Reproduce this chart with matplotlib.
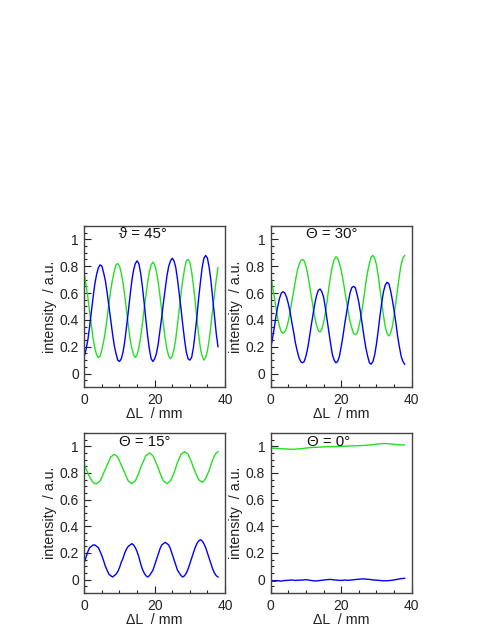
import numpy as np
import matplotlib
matplotlib.use("Agg")
import matplotlib.pyplot as plt
from matplotlib.ticker import MultipleLocator, FuncFormatter

plt.rcParams['font.family'] = ['Liberation Sans', 'DejaVu Sans']

# positions along delta L (mm), 0..38 step 0.5
x_mm = [i * 0.5 for i in range(77)]

blue_45 = [0.13, 0.18, 0.25, 0.35, 0.46, 0.57, 0.67, 0.74, 0.79, 0.81,
           0.80, 0.75, 0.69, 0.60, 0.50, 0.40, 0.30, 0.21, 0.15, 0.10,
           0.09, 0.11, 0.16, 0.24, 0.35, 0.46, 0.58, 0.69, 0.77, 0.82,
           0.84, 0.82, 0.75, 0.65, 0.53, 0.40, 0.28, 0.18, 0.11, 0.09,
           0.11, 0.15, 0.22, 0.32, 0.42, 0.53, 0.63, 0.73, 0.80, 0.84,
           0.86, 0.84, 0.79, 0.70, 0.59, 0.48, 0.36, 0.25, 0.16, 0.11,
           0.10, 0.12, 0.19, 0.30, 0.42, 0.56, 0.68, 0.79, 0.86, 0.88,
           0.86, 0.79, 0.69, 0.56, 0.43, 0.30, 0.20]
green_45 = [0.74, 0.66, 0.57, 0.46, 0.36, 0.26, 0.19, 0.14, 0.12, 0.13,
            0.18, 0.24, 0.32, 0.42, 0.52, 0.62, 0.70, 0.76, 0.81, 0.82,
            0.80, 0.75, 0.68, 0.58, 0.47, 0.36, 0.26, 0.19, 0.14, 0.12,
            0.14, 0.19, 0.27, 0.37, 0.48, 0.58, 0.68, 0.76, 0.81, 0.83,
            0.81, 0.76, 0.68, 0.58, 0.47, 0.36, 0.26, 0.18, 0.13, 0.11,
            0.13, 0.18, 0.26, 0.37, 0.48, 0.60, 0.70, 0.78, 0.84, 0.85,
            0.83, 0.76, 0.66, 0.54, 0.41, 0.29, 0.19, 0.13, 0.10, 0.12,
            0.17, 0.25, 0.36, 0.48, 0.59, 0.70, 0.79]

blue_30 = [0.19, 0.26, 0.34, 0.43, 0.50, 0.56, 0.60, 0.61, 0.60, 0.57,
           0.52, 0.46, 0.38, 0.31, 0.23, 0.17, 0.12, 0.09, 0.08, 0.09,
           0.13, 0.19, 0.27, 0.36, 0.44, 0.52, 0.58, 0.62, 0.63, 0.61,
           0.57, 0.49, 0.40, 0.31, 0.22, 0.14, 0.10, 0.08, 0.09, 0.13,
           0.20, 0.28, 0.37, 0.45, 0.53, 0.60, 0.64, 0.65, 0.64, 0.59,
           0.53, 0.45, 0.36, 0.27, 0.19, 0.13, 0.08, 0.07, 0.09, 0.14,
           0.22, 0.32, 0.43, 0.53, 0.61, 0.66, 0.68, 0.67, 0.62, 0.55,
           0.47, 0.38, 0.28, 0.20, 0.13, 0.09, 0.07]
green_30 = [0.73, 0.65, 0.57, 0.49, 0.41, 0.35, 0.31, 0.30, 0.31, 0.34,
            0.39, 0.46, 0.54, 0.61, 0.69, 0.76, 0.81, 0.84, 0.85, 0.84,
            0.80, 0.74, 0.66, 0.58, 0.50, 0.42, 0.36, 0.32, 0.31, 0.33,
            0.38, 0.45, 0.54, 0.64, 0.73, 0.80, 0.85, 0.87, 0.86, 0.82,
            0.77, 0.70, 0.62, 0.54, 0.46, 0.39, 0.34, 0.30, 0.29, 0.30,
            0.35, 0.41, 0.49, 0.58, 0.68, 0.76, 0.82, 0.87, 0.88, 0.86,
            0.81, 0.73, 0.63, 0.53, 0.43, 0.35, 0.30, 0.28, 0.30, 0.35,
            0.43, 0.53, 0.63, 0.73, 0.81, 0.86, 0.88]

green_15 = [0.86, 0.83, 0.80, 0.77, 0.75, 0.73, 0.72, 0.72, 0.73, 0.74,
            0.77, 0.80, 0.83, 0.86, 0.89, 0.92, 0.93, 0.94, 0.93, 0.92,
            0.89, 0.86, 0.83, 0.80, 0.77, 0.74, 0.73, 0.72, 0.73, 0.74,
            0.77, 0.80, 0.84, 0.87, 0.90, 0.93, 0.94, 0.95, 0.94, 0.93,
            0.90, 0.87, 0.84, 0.80, 0.77, 0.74, 0.73, 0.72, 0.73, 0.74,
            0.77, 0.80, 0.84, 0.88, 0.91, 0.94, 0.95, 0.96, 0.95, 0.94,
            0.91, 0.88, 0.84, 0.81, 0.78, 0.75, 0.74, 0.73, 0.74, 0.76,
            0.79, 0.82, 0.86, 0.90, 0.93, 0.95, 0.96]
blue_15 = [0.13, 0.17, 0.21, 0.24, 0.25, 0.26, 0.26, 0.25, 0.24, 0.21,
           0.18, 0.14, 0.10, 0.07, 0.04, 0.03, 0.02, 0.03, 0.04, 0.06,
           0.09, 0.13, 0.16, 0.20, 0.23, 0.25, 0.26, 0.27, 0.26, 0.24,
           0.21, 0.17, 0.12, 0.08, 0.05, 0.03, 0.02, 0.03, 0.05, 0.07,
           0.11, 0.15, 0.19, 0.23, 0.26, 0.27, 0.28, 0.27, 0.26, 0.23,
           0.19, 0.15, 0.11, 0.07, 0.05, 0.03, 0.02, 0.03, 0.05, 0.08,
           0.12, 0.16, 0.20, 0.24, 0.27, 0.29, 0.30, 0.29, 0.27, 0.24,
           0.20, 0.16, 0.12, 0.08, 0.05, 0.03, 0.02]

# 0 degree panel, 0..38 step 1
x_mm_0 = list(range(39))
green_0 = [0.985, 0.986, 0.984, 0.982, 0.981, 0.979, 0.978, 0.979, 0.981, 0.983,
           0.987, 0.990, 0.992, 0.993, 0.994, 0.996, 0.997, 0.997, 0.998, 0.999,
           1.000, 1.001, 1.002, 1.003, 1.004, 1.005, 1.006, 1.008, 1.010, 1.013,
           1.016, 1.019, 1.021, 1.020, 1.018, 1.015, 1.013, 1.011, 1.010]
blue_0 = [-0.010, -0.012, -0.008, -0.011, -0.006, -0.005, -0.002, -0.006, -0.004, -0.003,
          0.000, -0.004, -0.008, -0.010, -0.006, -0.003, 0.000, 0.002, -0.002, -0.004,
          -0.006, -0.003, -0.005, -0.002, 0.001, 0.003, 0.006, 0.004, 0.002, -0.002,
          -0.004, -0.006, -0.009, -0.008, -0.006, -0.002, 0.003, 0.008, 0.010]

titles = ["\u03d1 = 45\u00b0", "\u0398 = 30\u00b0", "\u0398 = 15\u00b0", "\u0398 = 0\u00b0"]
xlabel = "\u0394L  / mm"
ylabel = "intensity  / a.u."

BLUE = "#0000ff"
GREEN = "#22e022"
FRAME = "#444444"

fig = plt.figure(figsize=(4.94, 6.39), dpi=100)
rects = [
    (0.1707, 0.3944, 0.2848, 0.2520),
    (0.5480, 0.3944, 0.2854, 0.2520),
    (0.1707, 0.0720, 0.2848, 0.2504),
    (0.5480, 0.0720, 0.2854, 0.2504),
]
series = [
    (x_mm, blue_45, green_45),
    (x_mm, blue_30, green_30),
    (x_mm, blue_15, green_15),
    (x_mm_0, blue_0, green_0),
]
title_pos = [(16.7, 1.04), (17.4, 1.04), (17.2, 1.03), (16.3, 1.03)]

def fmt(v, pos):
    if abs(v) < 1e-9:
        return "0"
    if abs(v - round(v)) < 1e-9:
        return "%d" % round(v)
    return ("%.1f" % v)

for i, (rect, (xs, b, g), tp, t) in enumerate(zip(rects, series, title_pos, titles)):
    ax = fig.add_axes(rect)
    ax.plot(xs, g, color=GREEN, lw=1.0)
    ax.plot(xs, b, color=BLUE, lw=1.0)
    ax.set_xlim(0, 40)
    ax.set_ylim(-0.1, 1.1)
    ax.xaxis.set_major_locator(MultipleLocator(20))
    ax.xaxis.set_minor_locator(MultipleLocator(5))
    ax.yaxis.set_major_locator(MultipleLocator(0.2))
    ax.yaxis.set_minor_locator(MultipleLocator(0.05))
    ax.yaxis.set_major_formatter(FuncFormatter(fmt))
    ax.xaxis.set_major_formatter(FuncFormatter(fmt))
    ax.tick_params(which='both', direction='in', top=False, right=False,
                   colors='#222222', labelsize=10, width=0.8)
    ax.tick_params(which='major', length=5, pad=4)
    ax.tick_params(which='minor', length=2.5)
    for sp in ax.spines.values():
        sp.set_color(FRAME)
        sp.set_linewidth(1.0)
    ax.set_xlabel(xlabel, fontsize=10.3, labelpad=0, color='#222222')
    ax.set_ylabel(ylabel, fontsize=10.3, labelpad=2, color='#222222')
    ax.text(tp[0], tp[1], t, ha='center', va='center', fontsize=10.8, color='#111111')

fig.savefig("out.png", dpi=100)
